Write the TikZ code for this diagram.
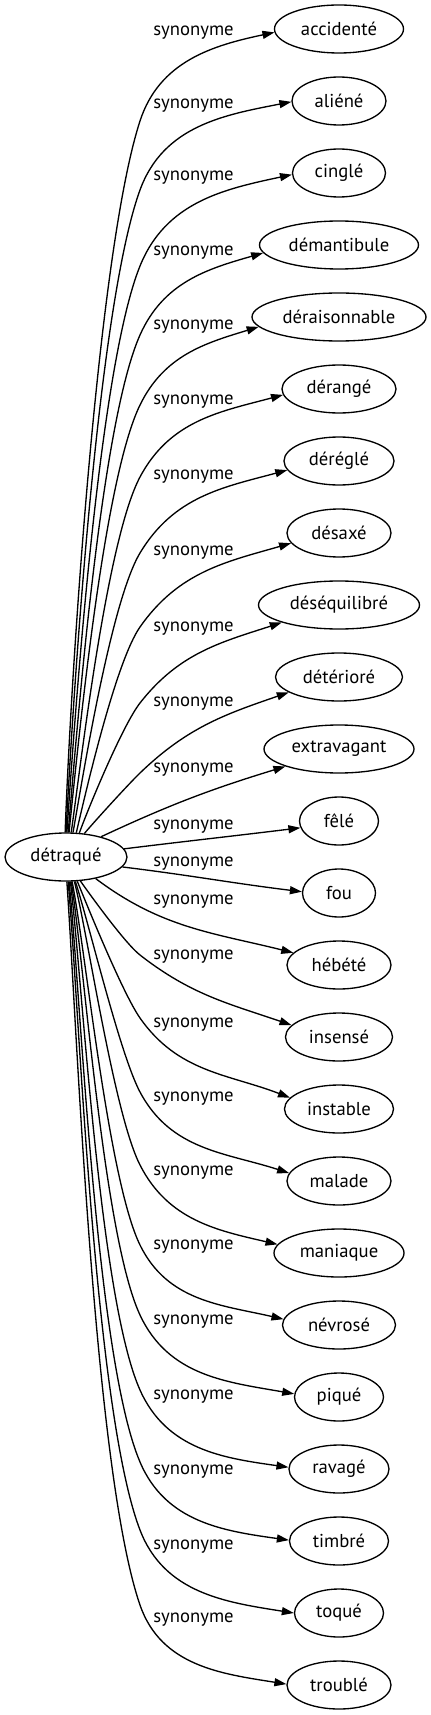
\documentclass[tikz,border=0pt]{standalone}
\usepackage{fontspec}
\setmainfont{PT Sans}
\usetikzlibrary{shapes.geometric, arrows.meta}

\begin{document}
\begin{tikzpicture}[x=0.75pt, y=-0.75pt,
    font=\fontsize{14pt}{17pt}\selectfont,
    word/.style={ellipse, draw, line width=1pt, inner sep=0pt, minimum height=36pt, minimum width=#1},
    rel/.style={inner sep=0pt},
    syn/.style={line width=1pt, -{Triangle[length=9pt, width=6pt]}}]
    \path[use as bounding box, fill=white] (0,0) rectangle (431,1715);

    \node[word=91.5pt] (det) at (66, 857) {détraqué};

    \node[word=96.75pt] (acc) at (339, 29) {accidenté};
    \node[word=70.5pt] (ali) at (339, 101) {aliéné};
    \node[word=69.75pt] (cin) at (339, 173) {cinglé};
    \node[word=119.25pt] (dem) at (339, 245) {démantibule};
    \node[word=130.5pt] (der) at (339, 317) {déraisonnable};
    \node[word=85.5pt] (dra) at (339, 389) {dérangé};
    \node[word=82.5pt] (drg) at (339, 461) {déréglé};
    \node[word=78pt] (dsx) at (339, 533) {désaxé};
    \node[word=120.75pt] (deq) at (339, 605) {déséquilibré};
    \node[word=95.25pt] (dtr) at (339, 677) {détérioré};
    \node[word=112.5pt] (ext) at (339, 749) {extravagant};
    \node[word=59.25pt] (fel) at (339, 821) {fêlé};
    \node[word=54.75pt] (fou) at (339, 893) {fou};
    \node[word=78pt] (heb) at (339, 965) {hébété};
    \node[word=80.25pt] (ins) at (339, 1037) {insensé};
    \node[word=81.75pt] (ist) at (339, 1109) {instable};
    \node[word=78pt] (mal) at (339, 1181) {malade};
    \node[word=97.5pt] (man) at (339, 1253) {maniaque};
    \node[word=84.75pt] (nev) at (339, 1325) {névrosé};
    \node[word=66.75pt] (piq) at (339, 1397) {piqué};
    \node[word=75pt] (rav) at (339, 1469) {ravagé};
    \node[word=74.25pt] (tim) at (339, 1541) {timbré};
    \node[word=66.75pt] (toq) at (339, 1613) {toqué};
    \node[word=78pt] (tro) at (339, 1685) {troublé};

    % edge labels
    \node[rel] (s0) at (193.5, 33) {synonyme};
    \node[rel] (s1) at (193.5, 106) {synonyme};
    \node[rel] (s2) at (193.5, 178) {synonyme};
    \node[rel] (s3) at (193.5, 253) {synonyme};
    \node[rel] (s4) at (193.5, 326.5) {synonyme};
    \node[rel] (s5) at (193.5, 401.5) {synonyme};
    \node[rel] (s6) at (193.5, 477) {synonyme};
    \node[rel] (s7) at (193.5, 553) {synonyme};
    \node[rel] (s8) at (193.5, 629) {synonyme};
    \node[rel] (s9) at (193.5, 704) {synonyme};
    \node[rel] (s10) at (193.5, 770) {synonyme};
    \node[rel] (s11) at (193.5, 826.5) {synonyme};
    \node[rel] (s12) at (193.5, 864) {synonyme};
    \node[rel] (s13) at (193.5, 901.5) {synonyme};
    \node[rel] (s14) at (193.5, 957) {synonyme};
    \node[rel] (s15) at (193.5, 1025) {synonyme};
    \node[rel] (s16) at (193.5, 1099) {synonyme};
    \node[rel] (s17) at (193.5, 1173) {synonyme};
    \node[rel] (s18) at (193.5, 1247) {synonyme};
    \node[rel] (s19) at (193.5, 1321.5) {synonyme};
    \node[rel] (s20) at (193.5, 1396.5) {synonyme};
    \node[rel] (s21) at (193.5, 1471.5) {synonyme};
    \node[rel] (s22) at (193.5, 1546.5) {synonyme};
    \node[rel] (s23) at (193.5, 1620) {synonyme};

    % edges, bent past the label column
    \draw[syn] (det.92) to[out=88, in=252, looseness=0.5] (140,121) to[out=72, in=192] (acc.183);
    \draw[syn] (det.90) to[out=87, in=250, looseness=0.5] (140,190) to[out=70, in=191] (ali.181);
    \draw[syn] (det.88) to[out=86, in=248, looseness=0.5] (140,266) to[out=68, in=192] (cin.182);
    \draw[syn] (det.85) to[out=85, in=246, looseness=0.5] (140,335) to[out=66, in=196] (dem.186);
    \draw[syn] (det.83) to[out=84, in=244, looseness=0.5] (140,405) to[out=64, in=197] (der.187);
    \draw[syn] (det.78) to[out=82, in=242, looseness=0.5] (140,477) to[out=62, in=195] (dra.186);
    \draw[syn] (det.74) to[out=80, in=239, looseness=0.5] (140,553) to[out=59, in=195] (drg.190);
    \draw[syn] (det.67) to[out=77, in=235, looseness=0.5] (140,627) to[out=55, in=196] (dsx.192);
    \draw[syn] (det.61) to[out=70, in=232, looseness=0.5] (140,703) to[out=52, in=198] (deq.197);
    \draw[syn] (det.52) to[out=50, in=224, looseness=0.5] (140,773) to[out=44, in=199] (dtr.197);
    \draw[syn] (det.30) to[out=25, in=197] (ext.198);
    \draw[syn] (det.8) to[out=7, in=187] (fel.190);
    \draw[syn] (det.350) to[out=-7, in=173] (fou.178);
    \draw[syn] (det.324) to[out=-37, in=166] (heb.165);
    \draw[syn] (det.301) to[out=-55, in=142, looseness=0.5] (140,955) to[out=-38, in=161] (ins.166);
    \draw[syn] (det.295) to[out=-68, in=125, looseness=0.5] (140,1018) to[out=-55, in=159] (ist.167);
    \draw[syn] (det.291) to[out=-72, in=118, looseness=0.5] (140,1092) to[out=-62, in=162] (mal.171);
    \draw[syn] (det.289) to[out=-76, in=117, looseness=0.5] (140,1165) to[out=-63, in=167] (man.172);
    \draw[syn] (det.284) to[out=-79, in=116, looseness=0.5] (140,1245) to[out=-64, in=167] (nev.174);
    \draw[syn] (det.282) to[out=-81, in=115, looseness=0.5] (140,1315) to[out=-65, in=170] (piq.176);
    \draw[syn] (det.280) to[out=-83, in=114, looseness=0.5] (140,1390) to[out=-66, in=172] (rav.178);
    \draw[syn] (det.277) to[out=-84, in=113, looseness=0.5] (140,1462) to[out=-67, in=172] (tim.179);
    \draw[syn] (det.275) to[out=-85, in=111, looseness=0.5] (140,1530) to[out=-69, in=171] (toq.180);
    \draw[syn] (det.272) to[out=-86, in=109, looseness=0.5] (140,1605) to[out=-71, in=171] (tro.179);
\end{tikzpicture}
\end{document}
